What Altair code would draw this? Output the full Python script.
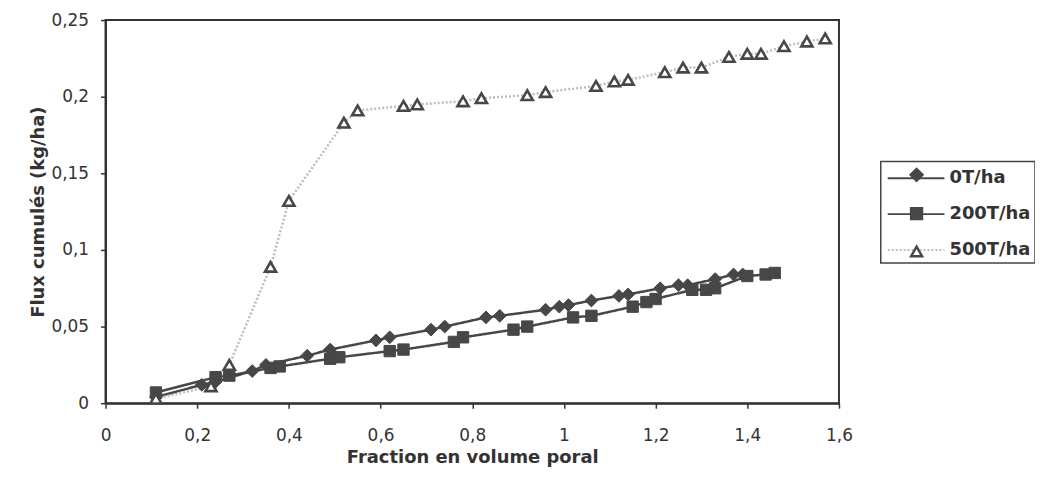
import altair as alt
import pandas as pd

# ---------------- data ----------------
series_names = ["0T/ha", "200T/ha", "500T/ha"]

x_0t = [0.11, 0.21, 0.24, 0.32, 0.35, 0.44, 0.49, 0.59, 0.62, 0.71, 0.74, 0.83, 0.86,
        0.96, 0.99, 1.01, 1.06, 1.12, 1.14, 1.21, 1.25, 1.27, 1.33, 1.37, 1.39]
y_0t = [0.004, 0.012, 0.014, 0.021, 0.025, 0.031, 0.035, 0.041, 0.043, 0.048, 0.050, 0.056, 0.057,
        0.061, 0.063, 0.064, 0.067, 0.070, 0.071, 0.075, 0.077, 0.077, 0.081, 0.084, 0.084]

x_200t = [0.11, 0.24, 0.27, 0.36, 0.38, 0.49, 0.51, 0.62, 0.65, 0.76, 0.78, 0.89, 0.92,
          1.02, 1.06, 1.15, 1.18, 1.20, 1.28, 1.31, 1.33, 1.40, 1.44, 1.46]
y_200t = [0.007, 0.017, 0.018, 0.023, 0.024, 0.029, 0.030, 0.034, 0.035, 0.040, 0.043, 0.048, 0.050,
          0.056, 0.057, 0.063, 0.066, 0.068, 0.074, 0.074, 0.075, 0.083, 0.084, 0.085]

x_500t = [0.11, 0.23, 0.27, 0.36, 0.40, 0.52, 0.55, 0.65, 0.68, 0.78, 0.82, 0.92, 0.96,
          1.07, 1.11, 1.14, 1.22, 1.26, 1.30, 1.36, 1.40, 1.43, 1.48, 1.53, 1.57]
y_500t = [0.003, 0.011, 0.025, 0.089, 0.132, 0.183, 0.191, 0.194, 0.195, 0.197, 0.199, 0.201, 0.203,
          0.207, 0.210, 0.211, 0.216, 0.219, 0.219, 0.226, 0.228, 0.228, 0.233, 0.236, 0.238]

x_ticks = [0, 0.2, 0.4, 0.6, 0.8, 1.0, 1.2, 1.4, 1.6]
y_ticks = [0, 0.05, 0.1, 0.15, 0.2, 0.25]

x_title = "Fraction en volume poral"
y_title = "Flux cumulés (kg/ha)"

# ---------------- table ----------------
frames = []
for name, xs, ys in zip(series_names, [x_0t, x_200t, x_500t], [y_0t, y_200t, y_500t]):
    frames.append(pd.DataFrame({"x": xs, "y": ys, "series": name}))
df = pd.concat(frames, ignore_index=True)

dark = "#474747"
light = "#bdbdbd"
font = "DejaVu Sans"
comma_expr = "replace(format(datum.value, '.2~f'), '.', ',')"

x_enc = alt.X(
    "x:Q",
    scale=alt.Scale(domain=[0, 1.6], nice=False, zero=False),
    axis=alt.Axis(values=x_ticks, title=x_title, labelExpr=comma_expr, labelFlush=False,
                  tickSize=5, labelPadding=19, titlePadding=6),
)
y_enc = alt.Y(
    "y:Q",
    scale=alt.Scale(domain=[0, 0.25], nice=False, zero=False),
    axis=alt.Axis(values=y_ticks, title=y_title, labelExpr=comma_expr,
                  tickSize=5, labelPadding=12, titlePadding=3),
)

# legend geometry helpers (custom symbol paths, unit = sqrt(576)/2 = 12 px)
sym_size = 576
line_path = "M-0.833,0L3.917,0"
diamond_path = "M1.042,0L1.542,-0.5L2.042,0L1.542,0.5Z"
square_path = "M1.084,-0.458L2,-0.458L2,0.458L1.084,0.458Z"
tri_path = "M1.542,-0.40L2.0,0.40L1.084,0.40Z"

common_legend = dict(
    title=None, orient="none", legendX=779,
    symbolSize=sym_size,
    labelFont=font, labelFontSize=18, labelFontWeight="bold", labelColor="#333333",
    labelOffset=39, rowPadding=14, padding=4, labelLimit=0,
)
legend_lines = alt.Legend(symbolType=line_path, strokeColor="#444444", symbolStrokeWidth=2,
                          legendY=142, zindex=1, **common_legend)
legend_marks = alt.Legend(symbolOpacity=1, symbolStrokeWidth=2.4, labelExpr="' '",
                          legendY=138, zindex=2, **common_legend)

lines = alt.Chart(df).mark_line(strokeWidth=2.5).encode(
    x=x_enc,
    y=y_enc,
    color=alt.Color("series:N", scale=alt.Scale(range=[dark, dark, light]), legend=legend_lines),
    strokeDash=alt.StrokeDash("series:N", scale=alt.Scale(range=[[1, 0], [1, 0], [2, 2]]),
                              legend=legend_lines),
    order="x:Q",
)

solid_names = series_names[:2]
points_solid = alt.Chart(df).transform_filter(
    alt.FieldOneOfPredicate(field="series", oneOf=solid_names)
).mark_point(filled=True, fill=dark, stroke=dark, strokeWidth=1, opacity=1).encode(
    x=x_enc,
    y=y_enc,
    shape=alt.Shape("series:N", scale=alt.Scale(domain=solid_names, range=["diamond", "square"]),
                    legend=None),
    size=alt.Size("series:N", scale=alt.Scale(domain=solid_names, range=[165, 130]), legend=None),
)

points_open = alt.Chart(df).transform_filter(
    alt.datum.series == series_names[2]
).mark_point(shape="triangle-up", filled=False, fill="white", stroke=dark, strokeWidth=2.6,
             size=125, opacity=1).encode(
    x=x_enc,
    y=y_enc,
)

legend_layer = alt.Chart(df).transform_filter("false").mark_point(
    filled=True, strokeWidth=2.4, opacity=1
).encode(
    x=x_enc,
    y=y_enc,
    shape=alt.Shape("series:N", scale=alt.Scale(domain=series_names,
                                                range=[diamond_path, square_path, tri_path]),
                    legend=legend_marks),
    fill=alt.Fill("series:N", scale=alt.Scale(domain=series_names, range=[dark, dark, "white"]),
                  legend=legend_marks),
    stroke=alt.Stroke("series:N", scale=alt.Scale(domain=series_names, range=[dark, dark, dark]),
                      legend=legend_marks),
)

chart = (
    alt.layer(lines, points_solid, points_open, legend_layer)
    .resolve_scale(shape="independent", fill="independent", stroke="independent",
                   size="independent")
    .resolve_legend(shape="independent", fill="independent", stroke="independent")
    .properties(
        width=737, height=385,
        autosize=alt.AutoSizeParams(type="none"),
        padding={"left": 98, "top": 11, "right": 197, "bottom": 68},
        background="white",
    )
    .configure_view(stroke="#333333", strokeWidth=2)
    .configure_axis(
        grid=False, domainColor="#333333", domainWidth=2, tickColor="#333333", tickWidth=1.5,
        labelFont=font, labelFontSize=17, labelColor="#333333",
        titleFont=font, titleFontSize=18, titleFontWeight="bold", titleColor="#333333",
    )
    .configure_legend(strokeWidth=1.5)
)

chart.save("out.html", embed_options={"renderer": "svg", "actions": False})
